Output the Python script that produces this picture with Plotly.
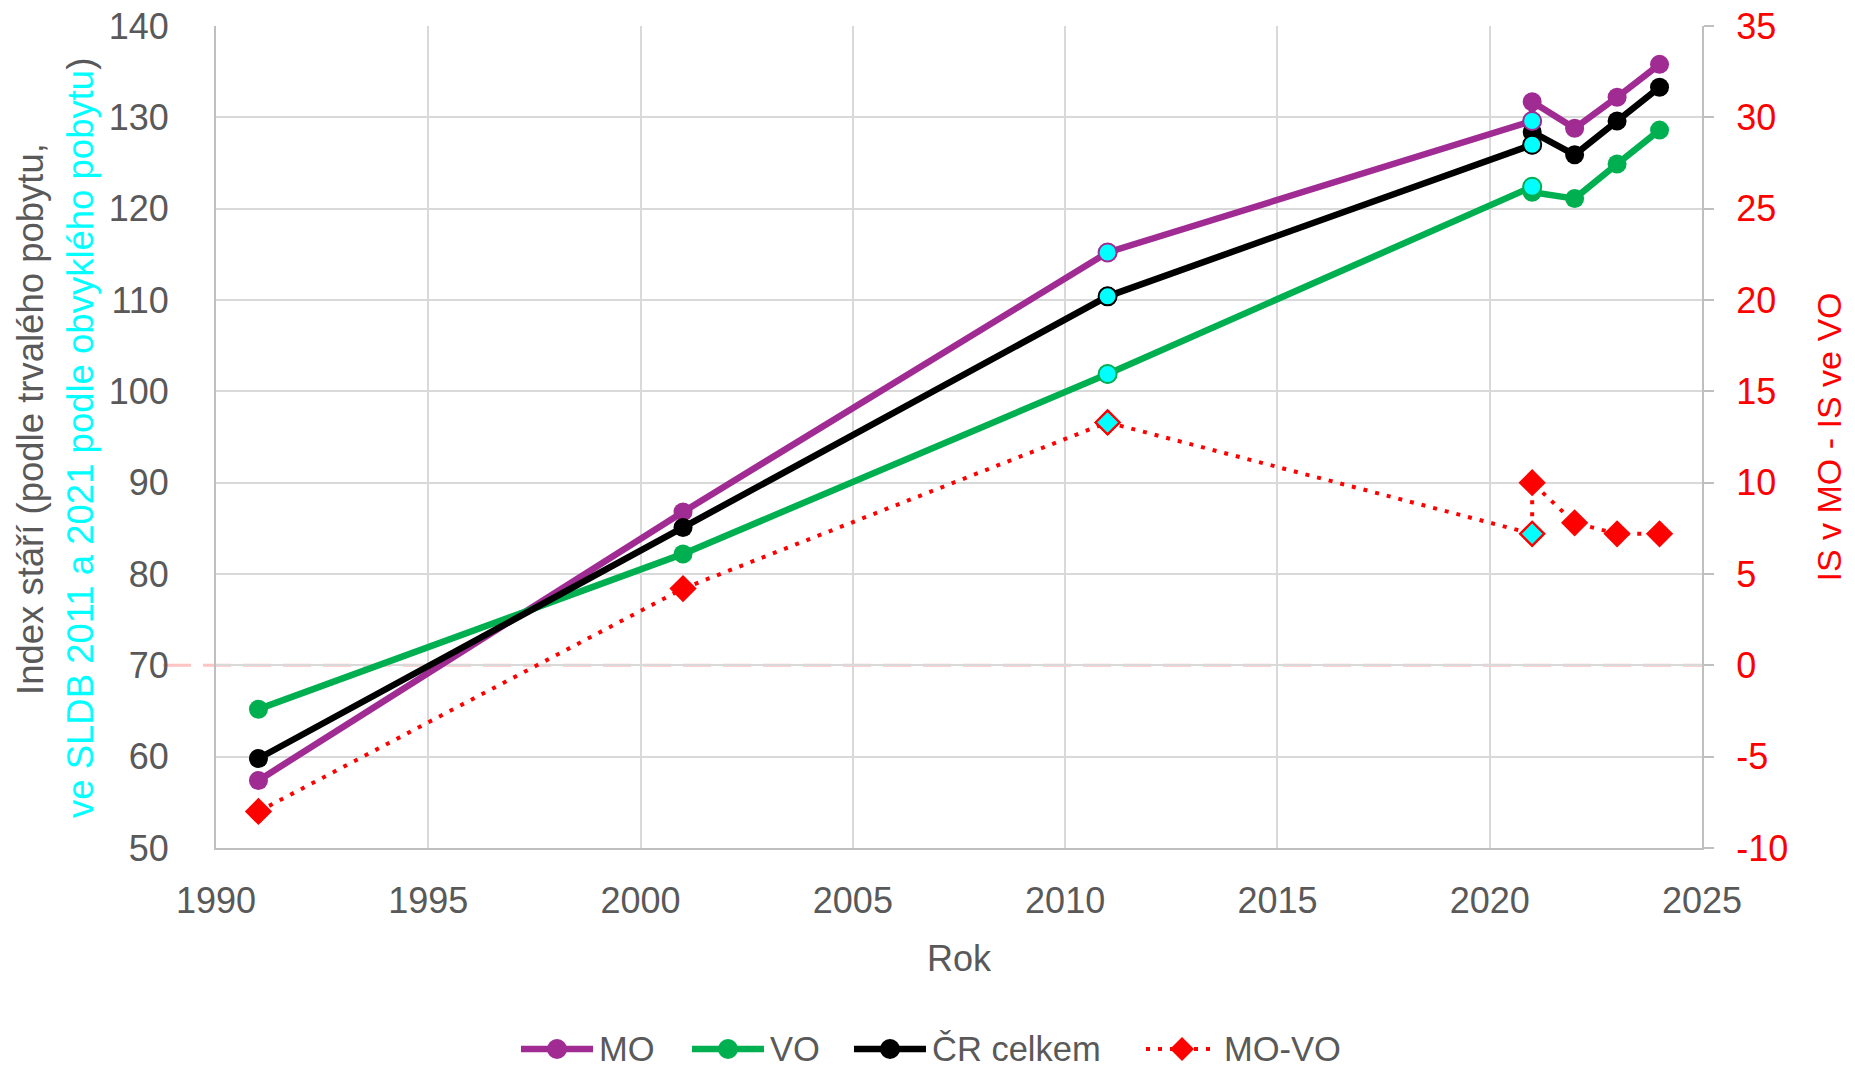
import plotly.graph_objects as go

# roky (2021 dvakrát: obvyklý pobyt SLDB, pak trvalý pobyt)
roky = [1991, 2001, 2011, 2021, 2021, 2022, 2023, 2024]
sldb = [False, False, True, True, False, False, False, False]

mo = [57.4, 86.8, 115.2, 129.6, 131.7, 128.8, 132.2, 135.8]
vo = [65.2, 82.2, 101.9, 122.4, 121.8, 121.1, 124.9, 128.6]
cr = [59.8, 85.1, 110.4, 127.0, 128.4, 125.9, 129.6, 133.3]
mo_vo = [-8.0, 4.2, 13.3, 7.2, 10.0, 7.8, 7.2, 7.2]

y_range = [50, 140]
y2_range = [-10, 35]
y2_ticks = [-10, -5, 0, 5, 10, 15, 20, 25, 30, 35]
y2_ticktext = ['-10', '-5', '0', '5', '10', '15', '20', '25', '30', '35']

GRAY = '#595959'
FONT = 'Arial, Liberation Sans, sans-serif'
CYAN = '#00FFFF'
RED = '#FF0000'

series = [('MO', mo, '#A02B93'), ('VO', vo, '#00B050'), ('ČR celkem', cr, '#000000')]

# plot area in page pixels (page has 8px body margin around the figure)
PAD = 8
L, R, T, B = 216, 1702, 26, 848
W, H = 1855 - PAD, 1070 - PAD


def px2x(p):
    return (p - L) / (R - L)


def py2y(p):
    return (B - p) / (B - T)


fig = go.Figure()

for name, vals, col in series:
    fig.add_trace(go.Scatter(
        x=roky, y=vals, name=name, mode='lines+markers', showlegend=False,
        line=dict(color=col, width=6.5),
        marker=dict(color=col, size=19)
    ))

fig.add_trace(go.Scatter(
    x=roky, y=mo_vo, name='MO-VO', mode='lines+markers', yaxis='y2', showlegend=False,
    line=dict(color=RED, width=4, dash='4px,8px'),
    marker=dict(color=RED, symbol='diamond', size=21)
))

# body SLDB (obvyklý pobyt) - azurové značky navrch
for name, vals, col in series:
    fig.add_trace(go.Scatter(
        x=[r for r, s in zip(roky, sldb) if s],
        y=[v for v, s in zip(vals, sldb) if s],
        mode='markers', showlegend=False,
        marker=dict(color=CYAN, size=18, line=dict(color=col, width=2))
    ))

fig.add_trace(go.Scatter(
    x=[r for r, s in zip(roky, sldb) if s],
    y=[v for v, s in zip(mo_vo, sldb) if s],
    mode='markers', showlegend=False, yaxis='y2',
    marker=dict(color=CYAN, symbol='diamond', size=18, line=dict(color=RED, width=2))
))

# nulová čára pravé osy
y_zero = (0 - y2_range[0]) / (y2_range[1] - y2_range[0])
fig.add_shape(type='line', xref='paper', yref='paper', x0=px2x(163), x1=1.0,
              y0=y_zero, y1=y_zero, layer='below',
              line=dict(color='#FFC4C4', width=3, dash='28px,12px'))

# legenda ručně (delší čáry se značkou uprostřed, jako v Excelu)
leg_y = py2y(1049)
leg_items = [('MO', '#A02B93', 'circle', 521), ('VO', '#00B050', 'circle', 692),
             ('ČR celkem', '#000000', 'circle', 854), ('MO-VO', RED, 'diamond', 1146)]
for name, col, sym, x0 in leg_items:
    dotted = sym == 'diamond'
    fig.add_shape(type='line', xref='paper', yref='paper',
                  x0=px2x(x0), x1=px2x(x0 + 72), y0=leg_y, y1=leg_y,
                  line=dict(color=col, width=4 if dotted else 6.5,
                            dash='4px,8px' if dotted else 'solid'))
    if dotted:
        fig.add_shape(type='path', xref='paper', yref='paper',
                      xsizemode='pixel', ysizemode='pixel',
                      xanchor=px2x(x0 + 36), yanchor=leg_y,
                      path='M0,12 L12,0 L0,-12 L-12,0 Z',
                      fillcolor=col, line=dict(width=0))
    else:
        fig.add_shape(type='circle', xref='paper', yref='paper',
                      xsizemode='pixel', ysizemode='pixel',
                      xanchor=px2x(x0 + 36), yanchor=leg_y,
                      x0=-10, x1=10, y0=-10, y1=10,
                      fillcolor=col, line=dict(width=0))
    fig.add_annotation(text=name, xref='paper', yref='paper',
                       x=px2x(x0 + 76), y=leg_y, xanchor='left', yanchor='middle',
                       showarrow=False, font=dict(size=34.5, color=GRAY))

# název levé osy ve dvou řádcích (druhý azurový)
fig.add_annotation(text='Index stáří (podle trvalého pobytu,', textangle=-90,
                   xref='paper', yref='paper', x=px2x(30), y=py2y(419),
                   xanchor='center', yanchor='middle', showarrow=False,
                   font=dict(size=36.5, color=GRAY))
fig.add_annotation(text=f'<span style="color:{CYAN}">ve SLDB 2011 a 2021 podle obvyklého pobytu</span>)',
                   textangle=-90,
                   xref='paper', yref='paper', x=px2x(80), y=py2y(438),
                   xanchor='center', yanchor='middle', showarrow=False,
                   font=dict(size=36.5, color=GRAY))

fig.update_layout(
    width=W, height=H,
    margin=dict(l=L - PAD, r=W - (R - PAD), t=T - PAD, b=H - (B - PAD), autoexpand=False),
    paper_bgcolor='white', plot_bgcolor='white',
    font=dict(family=FONT, color=GRAY),
    showlegend=False,
    xaxis=dict(
        range=[1990, 2025], tick0=1990, dtick=5, automargin=False,
        showgrid=True, gridcolor='#D9D9D9', gridwidth=2,
        showline=True, linecolor='#BFBFBF', linewidth=2, zeroline=False,
        ticks='', ticklabelstandoff=20, ticklabeloverflow='allow',
        tickfont=dict(size=36, color=GRAY),
        title=dict(text='Rok', font=dict(size=36, color=GRAY), standoff=26)
    ),
    yaxis=dict(
        range=y_range, dtick=10, automargin=False,
        showgrid=True, gridcolor='#D9D9D9', gridwidth=2,
        showline=True, linecolor='#BFBFBF', linewidth=2, zeroline=False,
        ticks='', ticklabelstandoff=38, ticklabeloverflow='allow',
        tickfont=dict(size=36, color=GRAY)
    ),
    yaxis2=dict(
        range=y2_range, tickvals=y2_ticks, ticktext=y2_ticktext,
        overlaying='y', side='right', automargin=False,
        showgrid=False, zeroline=False,
        showline=True, linecolor='#BFBFBF', linewidth=2,
        ticks='outside', ticklen=10, tickwidth=2, tickcolor='#BFBFBF',
        ticklabelstandoff=15, ticklabeloverflow='allow',
        tickfont=dict(size=36, color=RED),
        title=dict(text='IS v MO - IS ve VO', font=dict(size=34, color=RED), standoff=30)
    )
)

fig.write_html("out.html")
